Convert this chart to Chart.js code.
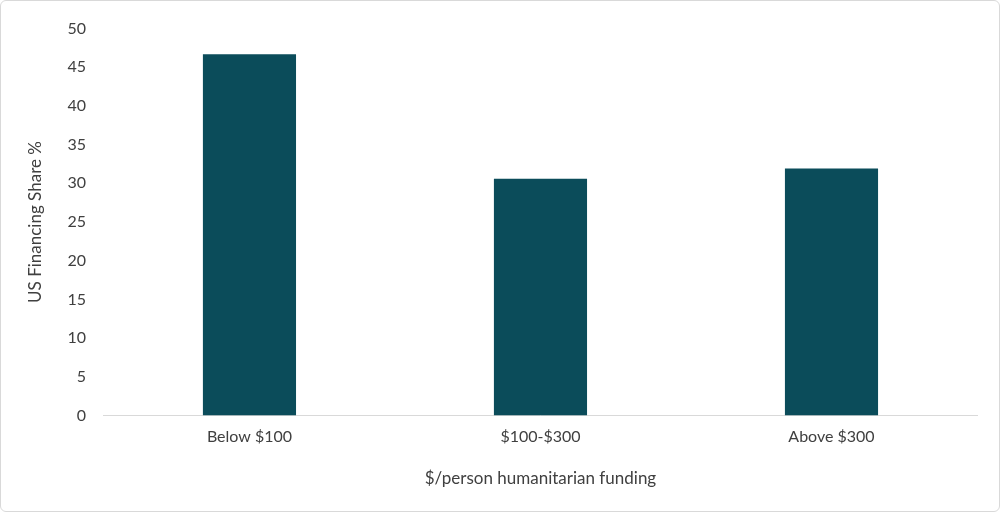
<!DOCTYPE html>
<html>
<head>
<meta charset="utf-8">
<script src="https://cdn.jsdelivr.net/npm/chart.js@4"></script>
<style>
  html, body { margin: 0; padding: 0; background: #fff; }
  .frame { width: 998px; height: 510px; border: 1px solid #d9d9d9; border-radius: 6px; position: relative; }
  canvas { display: block; }
</style>
</head>
<body>
<div class="frame"><canvas id="chart" width="998" height="510"></canvas></div>
<script>
const categories = ['Below $100', '$100-$300', 'Above $300'];
const shares = [46.7, 30.6, 31.9];

new Chart(document.getElementById('chart'), {
  type: 'bar',
  data: {
    labels: categories,
    datasets: [{
      data: shares,
      backgroundColor: '#0b4c5a',
      categoryPercentage: 1,
      barPercentage: 0.32
    }]
  },
  options: {
    responsive: false,
    animation: false,
    layout: { padding: { top: 12, right: 22, bottom: 18, left: 20 } },
    plugins: { legend: { display: false }, tooltip: { enabled: false } },
    scales: {
      x: {
        grid: { display: false, drawTicks: false },
        border: { color: '#d9d9d9' },
        ticks: { color: '#404040', font: { family: 'Lato', size: 16 }, padding: 12 },
        title: { display: true, text: '$/person humanitarian funding', color: '#404040', font: { family: 'Lato', size: 17 }, padding: { top: 10 } }
      },
      y: {
        min: 0, max: 50,
        grid: { display: false, drawTicks: false },
        border: { display: false },
        ticks: { stepSize: 5, color: '#404040', font: { family: 'Lato', size: 16 }, padding: 18 },
        title: { display: true, text: 'US Financing Share %', color: '#404040', font: { family: 'Lato', size: 17 } }
      }
    }
  }
});
</script>
</body>
</html>
